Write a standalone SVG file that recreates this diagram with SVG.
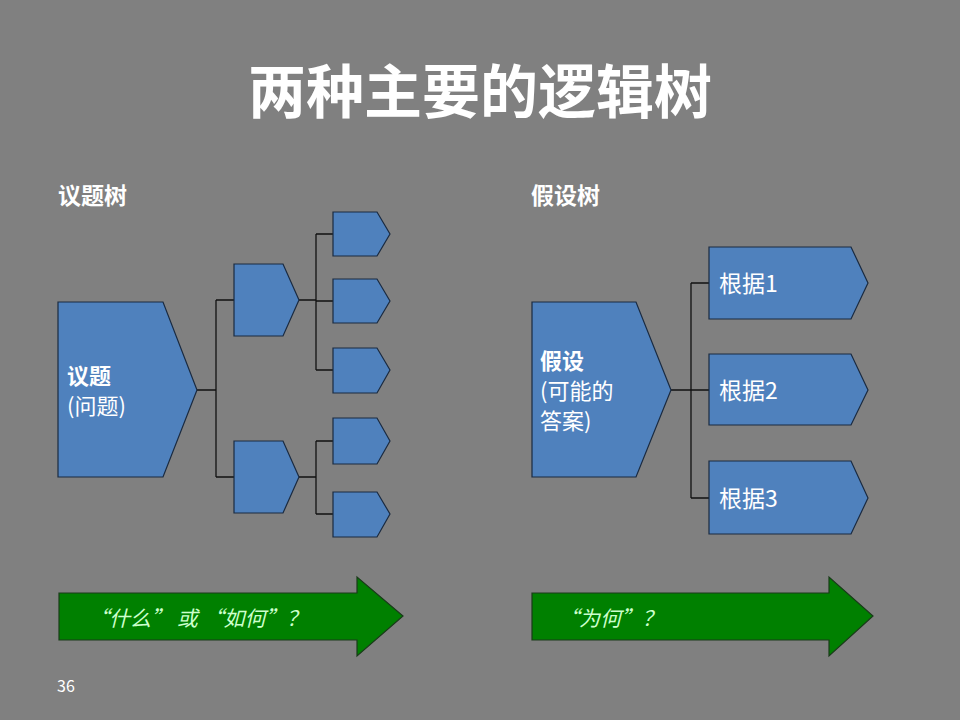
<svg xmlns="http://www.w3.org/2000/svg" width="960" height="720" viewBox="0 0 960 720">
<style>
.bg{fill:#808080}
.node{fill:#4f81bd;stroke:#1a2a40;stroke-width:1.2}
.arrow{fill:#008000;stroke:#1a3a1a;stroke-width:1.2}
.conn{fill:none;stroke:#111;stroke-width:1.3}
.t{font-family:"Noto Sans CJK SC","Liberation Sans",sans-serif;fill:#fff}
.b{font-weight:bold}
.q{font-family:"Noto Sans CJK SC","Liberation Sans",sans-serif;fill:#ccffcc;font-style:italic;font-size:21px}
</style>
<rect class="bg" x="0" y="0" width="960" height="720"/>
<text class="t b" x="480" y="113" font-size="58" text-anchor="middle">两种主要的逻辑树</text>
<text class="t b" x="58" y="204" font-size="23">议题树</text>
<text class="t b" x="531" y="204" font-size="23">假设树</text>
<text class="t" x="57" y="692" font-size="16" fill="#eee">36</text>

<g id="connectors">
<path class="conn" d="M197,390 H216 M216,300 V477 M216,300 H234 M216,477 H234"/>
<path class="conn" d="M299,300 H316 M316,234 V370 M316,234 H333 M316,301 H333 M316,370 H333"/>
<path class="conn" d="M299,477 H316 M316,441 V514 M316,441 H333 M316,514 H333"/>
<path class="conn" d="M671,390 H691 M691,283 V498 M691,283 H709 M691,390 H709 M691,498 H709"/>
</g>

<g id="issue">
<polygon class="node" points="58,302 163,302 197,390 163,477 58,477"/>
<text class="t b" x="67" y="384" font-size="22">议题</text>
<text class="t" x="67" y="414" font-size="22">(问题)</text>
</g>
<g id="sub1"><polygon class="node" points="234,264 283,264 299,300 283,336 234,336"/></g>
<g id="sub2"><polygon class="node" points="234,441 283,441 299,477 283,513 234,513"/></g>
<g id="leaf1"><polygon class="node" points="333,212 377,212 390,234 377,256 333,256"/></g>
<g id="leaf2"><polygon class="node" points="333,279 377,279 390,301 377,323 333,323"/></g>
<g id="leaf3"><polygon class="node" points="333,348 377,348 390,370 377,393 333,393"/></g>
<g id="leaf4"><polygon class="node" points="333,418 377,418 390,441 377,464 333,464"/></g>
<g id="leaf5"><polygon class="node" points="333,492 377,492 390,514 377,537 333,537"/></g>

<g id="hypothesis">
<polygon class="node" points="532,302 636,302 671,390 636,477 532,477"/>
<text class="t b" x="540" y="369" font-size="22">假设</text>
<text class="t" x="540" y="399" font-size="22">(可能的</text>
<text class="t" x="540" y="429" font-size="22">答案)</text>
</g>
<g id="basis1">
<polygon class="node" points="709,247 851,247 868,283 851,319 709,319"/>
<text class="t" x="719" y="292" font-size="23">根据1</text>
</g>
<g id="basis2">
<polygon class="node" points="709,354 851,354 868,390 851,425 709,425"/>
<text class="t" x="719" y="399" font-size="23">根据2</text>
</g>
<g id="basis3">
<polygon class="node" points="709,461 851,461 868,498 851,534 709,534"/>
<text class="t" x="719" y="507" font-size="23">根据3</text>
</g>

<g id="arrow-left">
<polygon class="arrow" points="59,593 357,593 357,577 403,616 357,656 357,640 59,640"/>
<text class="q" x="88" y="626">“什么” 或 “如何”？</text>
</g>
<g id="arrow-right">
<polygon class="arrow" points="532,593 829,593 829,577 873,616 829,656 829,640 532,640"/>
<text class="q" x="558" y="626">“为何”？</text>
</g>
</svg>
